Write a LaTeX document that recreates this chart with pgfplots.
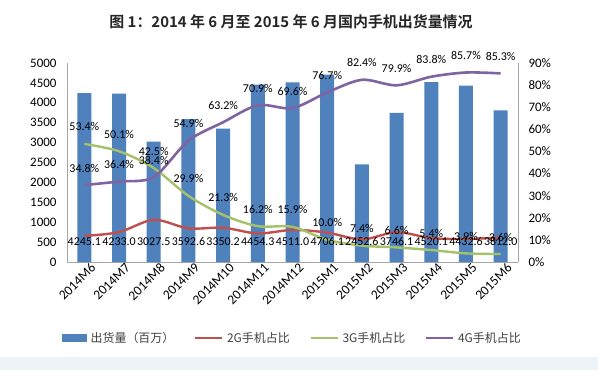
\documentclass[border=0pt]{standalone}
\usepackage{pgfplots}
\pgfplotsset{compat=1.18}
\usepackage{pgfplotstable}
\usepackage{fontspec}
\setmainfont{Carlito}
\newfontfamily\cjk{Noto Sans CJK SC}
\newfontfamily\cjkb{Noto Sans CJK SC Bold}
\definecolor{barblue}{HTML}{4F81BD}
\definecolor{red2g}{HTML}{C0504D}
\definecolor{green3g}{HTML}{9BBB59}
\definecolor{purple4g}{HTML}{8064A2}
\definecolor{axisgray}{HTML}{A6A6A6}
\definecolor{bandcol}{HTML}{EEF3F8}
\definecolor{legtext}{HTML}{404040}

\pgfplotstableread{
x ship lab
0 4245.1 4245.1
1 4233.0 4233.0
2 3027.5 3027.5
3 3592.6 3592.6
4 3350.2 3350.2
5 4454.3 4454.3
6 4511.0 4511.0
7 4706.1 4706.1
8 2452.6 2452.6
9 3746.1 3746.1
10 4520.1 4520.1
11 4432.6 4432.6
12 3812.0 3812.0
}\shiptable

\pgfplotstableread{
x g2 g3 g4
0 11.8 53.4 34.8
1 13.5 50.1 36.4
2 19.1 42.5 38.4
3 15.2 29.9 54.9
4 15.5 21.3 63.2
5 12.9 16.2 70.9
6 14.5 15.9 69.6
7 13.3 10.0 76.7
8 10.2 7.4 82.4
9 13.5 6.6 79.9
10 10.8 5.4 83.8
11 10.4 3.9 85.7
12 11.1 3.6 85.3
}\sharetable

\begin{document}
\begin{tikzpicture}[x=1bp,y=1bp]
\fill[white] (0,0) rectangle (598,370);
\fill[bandcol] (0,0) rectangle (598,13);
\node[font=\cjkb\fontsize{15}{17}\selectfont, text=black!85] at (291,348) {图 1：2014 年 6 月至 2015 年 6 月国内手机出货量情况};

\begin{axis}[
  at={(67bp,108bp)}, anchor=south west, scale only axis,
  width=451bp, height=199bp,
  xmin=-0.5, xmax=12.5, ymin=0, ymax=5000,
  axis y line*=left, axis x line*=bottom,
  axis line style={draw=axisgray, line width=0.8bp},
  xtick={0,...,12},
  xticklabels={2014M6,2014M7,2014M8,2014M9,2014M10,2014M11,2014M12,2015M1,2015M2,2015M3,2015M4,2015M5,2015M6},
  ytick={0,500,...,5000},
  major tick length=0pt,
  /pgf/number format/assume math mode=true,
  /pgf/number format/set thousands separator={},
  scaled y ticks=false,
  xticklabel style={rotate=45, anchor=north east, font=\fontsize{13.5}{15}\selectfont, inner sep=1bp, xshift=5bp, yshift=-3bp},
  yticklabel style={font=\fontsize{13}{15}\selectfont, xshift=-7bp},
  clip=false,
]
\addplot[ybar, bar width=14bp, fill=barblue, draw=none] table[x=x, y=ship] {\shiptable};
\end{axis}

\begin{axis}[
  at={(67bp,108bp)}, anchor=south west, scale only axis,
  width=451bp, height=199bp,
  xmin=-0.5, xmax=12.5, ymin=0, ymax=90,
  axis y line*=right, axis x line=none,
  axis line style={draw=axisgray, line width=0.8bp},
  ytick={0,10,...,90},
  yticklabels={0\%,10\%,20\%,30\%,40\%,50\%,60\%,70\%,80\%,90\%},
  major tick length=0pt,
  /pgf/number format/assume math mode=true,
  yticklabel style={font=\fontsize{13}{15}\selectfont, xshift=7bp},
  clip=false,
  legend style={at={(0.5,-0.382)}, anchor=center, draw=none, fill=none,
    legend columns=4, font=\cjk\fontsize{12}{14}\selectfont, text=legtext,
    /tikz/every odd column/.append style={column sep=2bp},
    /tikz/every even column/.append style={column sep=18bp}},
]
\addlegendimage{legend image code/.code={\fill[barblue] (0bp,-3.5bp) rectangle (24bp,3.5bp);}}
\addlegendentry{出货量（百万）}
\addplot[red2g, line width=2.4bp, smooth, tension=0.5,
  legend image code/.code={\draw[red2g, line width=1.8bp] (0bp,0bp) -- (27bp,0bp);}]
  table[x=x, y=g2] {\sharetable};
\addlegendentry{2G手机占比}
\addplot[green3g!90!white, line width=2.4bp, smooth, tension=0.5,
  legend image code/.code={\draw[green3g!90!white, line width=1.8bp] (0bp,0bp) -- (27bp,0bp);}]
  table[x=x, y=g3] {\sharetable};
\addlegendentry{3G手机占比}
\addplot[purple4g, line width=2.6bp, smooth, tension=0.5,
  legend image code/.code={\draw[purple4g, line width=1.8bp] (0bp,0bp) -- (27bp,0bp);}]
  table[x=x, y=g4] {\sharetable};
\addlegendentry{4G手机占比}

% data labels
\addplot[draw=none, mark=none, forget plot,
  nodes near coords={\pgfmathprintnumber[fixed,fixed zerofill,precision=1]{\pgfplotspointmeta}\%},
  point meta=explicit,
  every node near coord/.append style={anchor=center, yshift=17bp, font=\fontsize{12}{14}\selectfont, inner sep=0pt}]
  table[x=x, y=g3, meta=g3] {\sharetable};
\addplot[draw=none, mark=none, forget plot,
  nodes near coords={\pgfmathprintnumber[fixed,fixed zerofill,precision=1]{\pgfplotspointmeta}\%},
  point meta=explicit,
  every node near coord/.append style={anchor=center, yshift=17bp, font=\fontsize{12}{14}\selectfont, inner sep=0pt}]
  table[x=x, y=g4, meta=g4] {\sharetable};
\addplot[draw=none, mark=none, forget plot,
  nodes near coords, point meta=explicit symbolic,
  every node near coord/.append style={anchor=center, font=\fontsize{12}{14}\selectfont, inner sep=0pt}]
  table[x=x, y expr=9.1, meta=lab] {\shiptable};
\end{axis}
\pgfresetboundingbox
\useasboundingbox (0,0) rectangle (598,370);
\end{tikzpicture}
\end{document}
